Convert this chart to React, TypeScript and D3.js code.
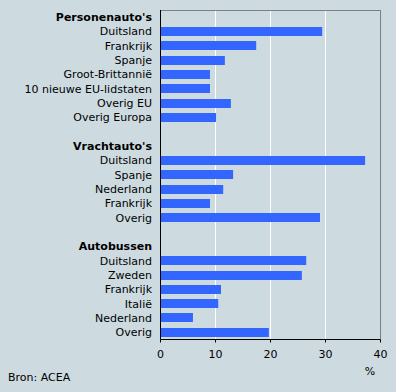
import * as d3 from "d3";
import { useEffect, useRef } from "react";

const personenLabels = ["Duitsland", "Frankrijk", "Spanje", "Groot-Brittannië", "10 nieuwe EU-lidstaten", "Overig EU", "Overig Europa"];
const personenValues = [29.4, 17.4, 11.7, 9.0, 9.0, 12.8, 10.1];
const vrachtLabels = ["Duitsland", "Spanje", "Nederland", "Frankrijk", "Overig"];
const vrachtValues = [37.2, 13.2, 11.4, 9.0, 29.0];
const busLabels = ["Duitsland", "Zweden", "Frankrijk", "Italië", "Nederland", "Overig"];
const busValues = [26.5, 25.7, 11.0, 10.5, 5.9, 19.7];
const groups = ["Personenauto's", "Vrachtauto's", "Autobussen"];
const xTicks = [0, 10, 20, 30, 40];

function App() {
	const ref = useRef(null);

	useEffect(() => {
		const svg = d3.select(ref.current);
		svg.selectAll("*").remove();

		const width = 396;
		const height = 392;
		const left = 160.5, right = 380.5, top = 10, bottom = 339.5;
		const font = "DejaVu Sans, Verdana, sans-serif";

		// build the rows: header, items, blank spacer
		const rows = [];
		const sets = [
			[personenLabels, personenValues],
			[vrachtLabels, vrachtValues],
			[busLabels, busValues]
		];
		sets.forEach((s, gi) => {
			rows.push({ key: "h" + gi, label: groups[gi], header: true });
			s[0].forEach((l, i) => rows.push({ key: gi + "-" + i, label: l, value: s[1][i] }));
			if (gi < sets.length - 1) rows.push({ key: "b" + gi, label: "", blank: true });
		});

		const x = d3.scaleLinear().domain([0, 40]).range([left, right]);
		const y = d3.scaleBand().domain(rows.map((r) => r.key)).range([top, bottom]).paddingInner(0.37).paddingOuter(0.185);
		const step = y.step();

		svg.append("rect").attr("width", width).attr("height", height).attr("fill", "#cddbe1");

		// gridlines
		svg.selectAll(".grid")
			.data(xTicks.slice(1, -1))
			.enter()
			.append("line")
			.attr("x1", (d) => x(d))
			.attr("x2", (d) => x(d))
			.attr("y1", top)
			.attr("y2", bottom)
			.attr("stroke", "#ffffff")
			.attr("stroke-width", 1);

		// frame
		svg.append("line").attr("x1", left).attr("x2", right).attr("y1", top + 0.5).attr("y2", top + 0.5).attr("stroke", "#808080");
		svg.append("line").attr("x1", right).attr("x2", right).attr("y1", top).attr("y2", bottom).attr("stroke", "#808080");

		// bars
		svg.selectAll(".bar")
			.data(rows.filter((r) => r.value !== undefined))
			.enter()
			.append("rect")
			.attr("x", x(0))
			.attr("y", (d) => Math.round(y(d.key)))
			.attr("width", (d) => x(d.value) - x(0))
			.attr("height", Math.round(y.bandwidth()))
			.attr("fill", "#3366ff");

		// row labels
		svg.selectAll(".lab")
			.data(rows.filter((r) => !r.blank))
			.enter()
			.append("text")
			.attr("x", 152)
			.attr("y", (d) => y(d.key) + y.bandwidth() / 2 + 4)
			.attr("text-anchor", "end")
			.attr("font-family", font)
			.attr("font-size", 11)
			.attr("font-weight", (d) => (d.header ? "bold" : "normal"))
			.attr("fill", "#000")
			.text((d) => d.label);

		// axes
		svg.append("line").attr("x1", left).attr("x2", left).attr("y1", top).attr("y2", bottom).attr("stroke", "#000");
		svg.append("line").attr("x1", left).attr("x2", right).attr("y1", bottom).attr("y2", bottom).attr("stroke", "#000");
		svg.selectAll(".tick")
			.data(xTicks)
			.enter()
			.append("line")
			.attr("x1", (d) => x(d))
			.attr("x2", (d) => x(d))
			.attr("y1", bottom)
			.attr("y2", bottom + 3)
			.attr("stroke", "#000");
		svg.selectAll(".ticklab")
			.data(xTicks)
			.enter()
			.append("text")
			.attr("x", (d) => x(d))
			.attr("y", 358)
			.attr("text-anchor", "middle")
			.attr("font-family", font)
			.attr("font-size", 11)
			.text((d) => d);

		svg.append("text").attr("x", 370).attr("y", 375).attr("text-anchor", "middle")
			.attr("font-family", font).attr("font-size", 11).text("%");
		svg.append("text").attr("x", 8).attr("y", 381)
			.attr("font-family", font).attr("font-size", 11).text("Bron: ACEA");
	}, []);

	return (
		<div style={{ position: "fixed", left: 0, top: 0 }}>
			<svg ref={ref} width={396} height={392} style={{ display: "block" }}></svg>
		</div>
	);
}

export default App;
